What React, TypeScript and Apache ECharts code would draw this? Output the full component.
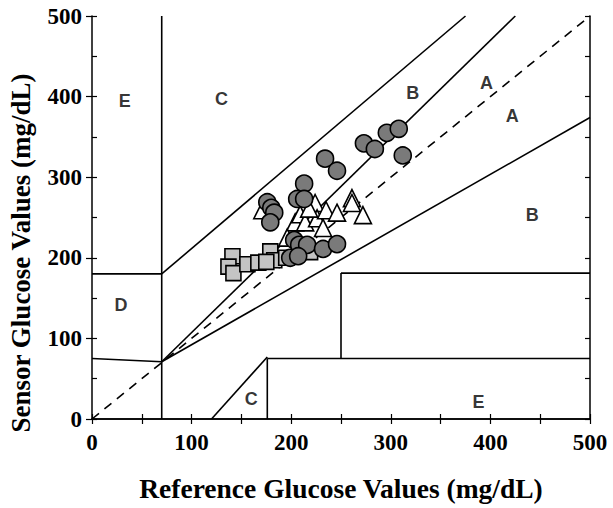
import React, { useEffect, useRef } from "react";
import * as echarts from "echarts";

// Reference (x) vs Sensor (y) glucose, mg/dL
const circleData: number[][] = [
  [273, 342], [284, 335], [296, 355], [308, 360], [312, 327],
  [234, 323], [246, 308], [213, 292], [206, 273], [213, 273],
  [176, 269], [180, 262], [183, 256], [179, 244],
  [203, 222], [208, 216], [216, 216], [199, 200], [207, 202],
  [232, 211], [246, 217],
];
const triangleData: number[][] = [
  [171, 259], [204, 244], [209, 254], [214, 244], [224, 268],
  [226, 249], [232, 237], [235, 259], [246, 256], [261, 274],
  [261, 268], [272, 253], [196, 225], [218, 261],
];
const squareData: number[][] = [
  [141, 202], [137, 189], [142, 181], [156, 192], [167, 194],
  [179, 208], [183, 197], [195, 200], [219, 207], [175, 195],
];

// Clarke error grid boundaries (solid)
const gridSegments: number[][][] = [
  [[70, 0], [70, 500]],
  [[0, 180], [70, 180]],
  [[0, 75], [70, 71]],
  [[70, 71], [425, 500]],
  [[70, 71], [500, 374]],
  [[70, 180], [375, 500]],
  [[120, 0], [176, 77]],
  [[176, 0], [176, 75]],
  [[176, 75], [500, 75]],
  [[250, 75], [250, 181]],
  [[250, 181], [500, 181]],
];
const identityLine: number[][] = [[0, 0], [500, 500]];

const zoneLabels: (number | string)[][] = [
  [33, 394, "E"], [130, 397, "C"], [322, 404, "B"], [396, 417, "A"],
  [422, 376, "A"], [442, 253, "B"], [29, 141, "D"], [160, 25, "C"], [388, 21, "E"],
];

const xTitle = "Reference Glucose Values (mg/dL)";
const yTitle = "Sensor Glucose Values (mg/dL)";

export default function App() {
  const ref = useRef<HTMLDivElement>(null);
  useEffect(() => {
    document.body.style.margin = "0";
    const chart = echarts.init(ref.current!, null, { renderer: "svg" });
    const serif = "Liberation Serif";
    const tickLabel = { fontFamily: serif, fontWeight: "bold", fontSize: 23, color: "#000" };
    const axisLine = { show: true, lineStyle: { color: "#000", width: 1.5 } };
    const lineSeries: any[] = gridSegments.map((seg) => ({
      type: "line",
      data: seg,
      symbol: "none",
      lineStyle: { color: "#000", width: 1.6 },
      z: 1,
      silent: true,
    }));
    lineSeries.push({
      type: "line",
      data: identityLine,
      symbol: "none",
      lineStyle: { color: "#000", width: 1.6, type: [9, 7] },
      z: 1,
      silent: true,
    });
    chart.setOption({
      animation: false,
      backgroundColor: "#fff",
      grid: { left: 92, right: 23, top: 16, bottom: 89 },
      graphic: [
        {
          type: "text",
          x: 21,
          y: 253,
          rotation: Math.PI / 2,
          style: {
            text: yTitle,
            fontFamily: serif, fontWeight: "bold", fontSize: 27, fill: "#000",
            textAlign: "center", textVerticalAlign: "middle",
          },
        },
      ],
      xAxis: [
        {
          type: "value", min: 0, max: 500, interval: 50, position: "bottom",
          axisLine, splitLine: { show: false },
          axisTick: { inside: true, length: 5, lineStyle: { color: "#000", width: 1.2 } },
          axisLabel: { ...tickLabel, margin: 12, formatter: (v: number) => (v % 100 === 0 ? String(v) : "") },
          name: xTitle, nameLocation: "middle", nameGap: 55,
          nameTextStyle: { fontFamily: serif, fontWeight: "bold", fontSize: 27.5, color: "#000" },
        },
        {
          type: "value", min: 0, max: 500, interval: 50, position: "top",
          axisLine, splitLine: { show: false },
          axisTick: { inside: true, length: 5, lineStyle: { color: "#000", width: 1.2 } },
          axisLabel: { show: false },
        },
      ],
      yAxis: [
        {
          type: "value", min: 0, max: 500, interval: 100, position: "left",
          axisLine, splitLine: { show: false },
          axisTick: { inside: false, length: 6, lineStyle: { color: "#000", width: 1.2 } },
          axisLabel: { ...tickLabel, margin: 10 },
        },
        {
          type: "value", min: 0, max: 500, interval: 50, position: "left",
          axisLine: { show: false }, splitLine: { show: false },
          axisTick: { inside: true, length: 5, lineStyle: { color: "#000", width: 1.2 } },
          axisLabel: { show: false },
        },
        {
          type: "value", min: 0, max: 500, interval: 50, position: "right",
          axisLine, splitLine: { show: false },
          axisTick: { inside: true, length: 5, lineStyle: { color: "#000", width: 1.2 } },
          axisLabel: { show: false },
        },
      ],
      series: [
        ...lineSeries,
        {
          type: "scatter",
          data: zoneLabels,
          symbolSize: 0,
          silent: true,
          label: {
            show: true, position: "inside",
            formatter: (p: any) => p.value[2],
            fontFamily: "Liberation Sans", fontWeight: "bold", fontSize: 18, color: "#000",
          },
        },
        {
          type: "scatter", data: triangleData, symbol: "triangle", symbolSize: 17, z: 3,
          itemStyle: { color: "#fff", borderColor: "#000", borderWidth: 1.6, opacity: 1 },
        },
        {
          type: "scatter", data: squareData, symbol: "rect", symbolSize: 15, z: 4,
          itemStyle: { color: "#c4c4c4", borderColor: "#000", borderWidth: 1.6, opacity: 1 },
        },
        {
          type: "scatter", data: circleData, symbol: "circle", symbolSize: 17, z: 5,
          itemStyle: { color: "#7a7a7a", borderColor: "#000", borderWidth: 1.6, opacity: 1 },
        },
      ],
    });
    return () => chart.dispose();
  }, []);
  return <div ref={ref} style={{ width: 613, height: 508 }} />;
}
